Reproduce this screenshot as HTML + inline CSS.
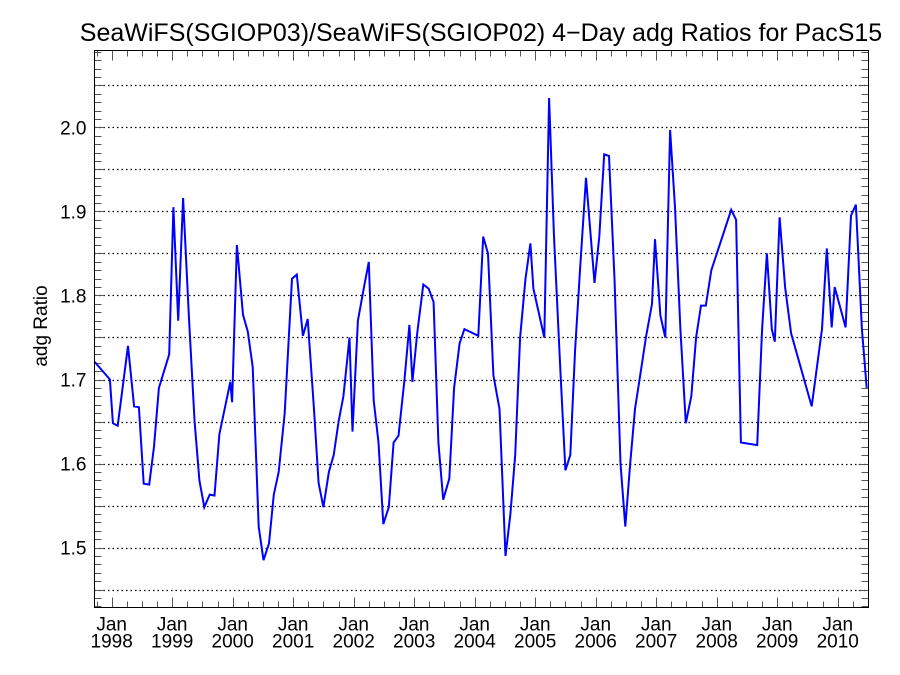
<!DOCTYPE html>
<html><head><meta charset="utf-8"><style>
html,body{margin:0;padding:0;background:#fff}
svg{display:block;font-family:"Liberation Sans",sans-serif}
</style></head><body>
<svg id="chart" width="900" height="675" viewBox="0 0 900 675">
<text x="481" y="41" font-size="25" text-anchor="middle">SeaWiFS(SGIOP03)/SeaWiFS(SGIOP02) 4−Day adg Ratios for PacS15</text>
<text transform="translate(47,326) rotate(-90)" font-size="19" text-anchor="middle">adg Ratio</text>
<g id="grid"></g>
<g id="axes"></g>
<path id="line" fill="none" stroke="#0000ff" stroke-width="2"></path>
<rect x="94.5" y="50.5" width="774" height="557" fill="none" stroke="#000" stroke-width="1"></rect>
</svg>
<script>
const dates=[1997.72,1997.97,1998.02,1998.10,1998.27,1998.37,1998.45,1998.53,1998.62,1998.70,1998.78,1998.95,1999.02,1999.10,1999.18,1999.28,1999.37,1999.45,1999.53,1999.62,1999.70,1999.78,1999.96,1999.99,2000.07,2000.17,2000.25,2000.33,2000.43,2000.51,2000.60,2000.68,2000.76,2000.86,2000.98,2001.06,2001.16,2001.24,2001.34,2001.42,2001.50,2001.59,2001.67,2001.75,2001.83,2001.93,2001.98,2002.07,2002.17,2002.25,2002.33,2002.41,2002.49,2002.58,2002.66,2002.74,2002.84,2002.92,2002.97,2003.05,2003.15,2003.24,2003.32,2003.40,2003.48,2003.58,2003.66,2003.75,2003.83,2004.06,2004.14,2004.22,2004.31,2004.41,2004.51,2004.59,2004.67,2004.75,2004.84,2004.92,2004.97,2005.15,2005.23,2005.31,2005.41,2005.50,2005.58,2005.66,2005.74,2005.84,2005.98,2006.06,2006.14,2006.22,2006.31,2006.41,2006.49,2006.57,2006.65,2006.75,2006.83,2006.93,2006.98,2007.07,2007.15,2007.23,2007.31,2007.40,2007.49,2007.58,2007.66,2007.74,2007.82,2007.91,2008.24,2008.32,2008.40,2008.67,2008.75,2008.83,2008.91,2008.96,2009.04,2009.13,2009.23,2009.57,2009.74,2009.82,2009.90,2009.95,2010.13,2010.22,2010.30,2010.40,2010.48];
const ratios=[1.721,1.700,1.648,1.645,1.740,1.668,1.667,1.576,1.575,1.620,1.690,1.730,1.905,1.770,1.916,1.770,1.650,1.580,1.548,1.563,1.562,1.635,1.697,1.673,1.860,1.777,1.757,1.715,1.525,1.485,1.505,1.563,1.590,1.660,1.820,1.825,1.752,1.772,1.668,1.577,1.548,1.590,1.610,1.650,1.680,1.750,1.638,1.770,1.810,1.840,1.675,1.625,1.528,1.548,1.625,1.633,1.700,1.765,1.697,1.755,1.813,1.808,1.792,1.625,1.557,1.582,1.690,1.743,1.760,1.752,1.870,1.850,1.705,1.665,1.490,1.540,1.610,1.750,1.820,1.862,1.808,1.750,2.035,1.870,1.720,1.592,1.610,1.735,1.830,1.940,1.815,1.870,1.968,1.966,1.820,1.600,1.525,1.600,1.665,1.712,1.750,1.790,1.867,1.776,1.750,1.997,1.905,1.760,1.648,1.680,1.750,1.788,1.788,1.830,1.902,1.890,1.625,1.622,1.760,1.850,1.760,1.745,1.893,1.810,1.755,1.668,1.760,1.856,1.762,1.810,1.762,1.895,1.908,1.760,1.690];
const yTicks=[1.5,1.6,1.7,1.8,1.9,2.0];
const xYears=[1998,1999,2000,2001,2002,2003,2004,2005,2006,2007,2008,2009,2010];
const NS="http://www.w3.org/2000/svg";
const L=94.5,R=868.5,T=50.5,B=607.5;
const X0=1997.716,X1=2010.509,Y0=1.4287,Y1=2.0915;
const sx=t=>L+(t-X0)/(X1-X0)*(R-L);
const sy=v=>B-(v-Y0)/(Y1-Y0)*(B-T);
function mk(tag,attrs,parent){const e=document.createElementNS(NS,tag);for(const k in attrs)e.setAttribute(k,attrs[k]);parent.appendChild(e);return e;}
const grid=document.getElementById('grid'),axes=document.getElementById('axes');
for(let i=0;i<14;i++){const v=1.45+i*0.05;if(v>Y1)break;const y=Math.round(sy(v))+0.5;
 const g=mk('line',{x1:L,x2:R,y1:y,y2:y,stroke:'#000','stroke-width':1.2,'stroke-dasharray':'1.5,3'},grid);
 }
for(let i=0;i<=70;i++){const v=1.43+i*0.01;if(v>Y1)break;const y=Math.round(sy(v))+0.5;const len=(Math.abs(v*20-Math.round(v*20))<0.01)?10:7;
 const t1=mk('line',{x1:L,x2:L+len,y1:y,y2:y,stroke:'#555'},axes);
 const t2=mk('line',{x1:R,x2:R-len,y1:y,y2:y,stroke:'#555'},axes);}
yTicks.forEach(v=>{const t=mk('text',{x:L-8,y:sy(v)+7,'font-size':19,'text-anchor':'end'},axes);t.textContent=v.toFixed(1);
 });
for(let q=1997.75;q<X1;q+=0.25){const x=Math.round(sx(q))+0.5;const major=Math.abs(q-Math.round(q))<0.01;const len=major?10:6;
 const a=mk('line',{x1:x,x2:x,y1:B,y2:B-len,stroke:'#555'},axes);
 const b=mk('line',{x1:x,x2:x,y1:T,y2:T+len,stroke:'#555'},axes);}
xYears.forEach(yr=>{const x=sx(yr);
 const a=mk('text',{x:x,y:B+23,'font-size':19,'text-anchor':'middle'},axes);a.textContent='Jan';
 const b=mk('text',{x:x,y:B+40,'font-size':19,'text-anchor':'middle'},axes);b.textContent=yr;});
document.getElementById('line').setAttribute('d',dates.map((t,i)=>(i?'L':'M')+sx(t).toFixed(1)+','+sy(ratios[i]).toFixed(1)).join(''));
</script>
</body></html>
